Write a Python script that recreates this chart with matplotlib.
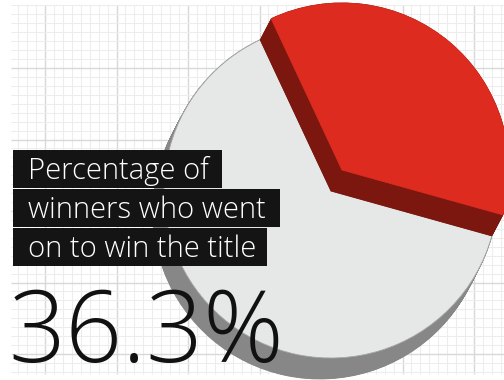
import matplotlib
matplotlib.use("Agg")
import matplotlib.pyplot as plt
import numpy as np
from matplotlib.patches import Wedge, Rectangle

# data
shares = [36.3, 63.7]          # won the title, did not
share_colors = ["#dd2b1f", "#e6e8e7"]
side_colors = ["#7b170e", "#878787"]
label_lines = ["Percentage of", "winners who went", "on to win the title"]
big_label = "36.3%"

W, H = 504, 380
fig = plt.figure(figsize=(W / 100, H / 100), dpi=100)
ax = fig.add_axes([0, 0, 1, 1])
ax.set_xlim(0, W)
ax.set_ylim(0, H)
ax.set_aspect("equal")
ax.axis("off")

# graph paper background
gx0, gx1 = 11, W
gy0, gy1 = H - 374, H - 5
step = 71.5 / 8
for i, x in enumerate(np.arange(45 - 71.5, W, step)):
    if x < gx0:
        continue
    major = i % 8 == 0
    ax.vlines(x, gy0, gy1, color="#d8d8d8" if major else "#ededed",
              lw=1.0 if major else 0.8, zorder=0)
for i, y in enumerate(np.arange(68 - 71.5, 380, step)):
    if y < 5 or y > 374:
        continue
    major = i % 8 == 0
    ax.hlines(H - y, gx0, gx1, color="#d8d8d8" if major else "#ededed",
              lw=1.0 if major else 0.8, zorder=0)

# 3d-ish pie: each slice is a wedge extruded along depth vector
center = np.array([331.0, H - 191.0])
radius = 167
depth = np.array([-11.0, -21.0])
mid = 49.75
red_span = shares[0] / 100 * 360
a0 = mid - red_span / 2
a1 = mid + red_span / 2

def solid(base, t1, t2, face, side, z, outline=None):
    for k in np.linspace(0, 1, 40):
        c = base + depth * (1 - k)
        ax.add_patch(Wedge(c, radius, t1, t2, facecolor=side, edgecolor=side,
                           lw=0.6, zorder=z))
    ax.add_patch(Wedge(base, radius, t1, t2, facecolor=face,
                       edgecolor=outline or face, lw=0.6, zorder=z + 0.5))

# grey slice sits on the paper, red slice is lifted by one depth
solid(center, a1, a0 + 360, share_colors[1], side_colors[1], 2, "#a5a7a6")
solid(center - depth, a0, a1, share_colors[0], side_colors[0], 3)

# label boxes
fam = ["Open Sans", "DejaVu Sans"]
boxes = [(150, 188, 222), (189, 227, 280), (228, 266, 267)]
baselines = [179, 218, 257]
for (top, bot, right), base_y, line in zip(boxes, baselines, label_lines):
    ax.add_patch(Rectangle((13, H - bot), right - 13, bot - top,
                           facecolor="#141414", edgecolor="none", zorder=5))
    ax.text(28, H - base_y, line, color="white", fontsize=21, family=fam,
            fontweight="light", va="baseline", ha="left", zorder=6)

ax.text(8, H - 362, big_label, color="#111111", fontsize=72, family=fam,
        fontweight="light", va="baseline", ha="left", zorder=6)

fig.savefig("out.png", dpi=100, facecolor="white")
